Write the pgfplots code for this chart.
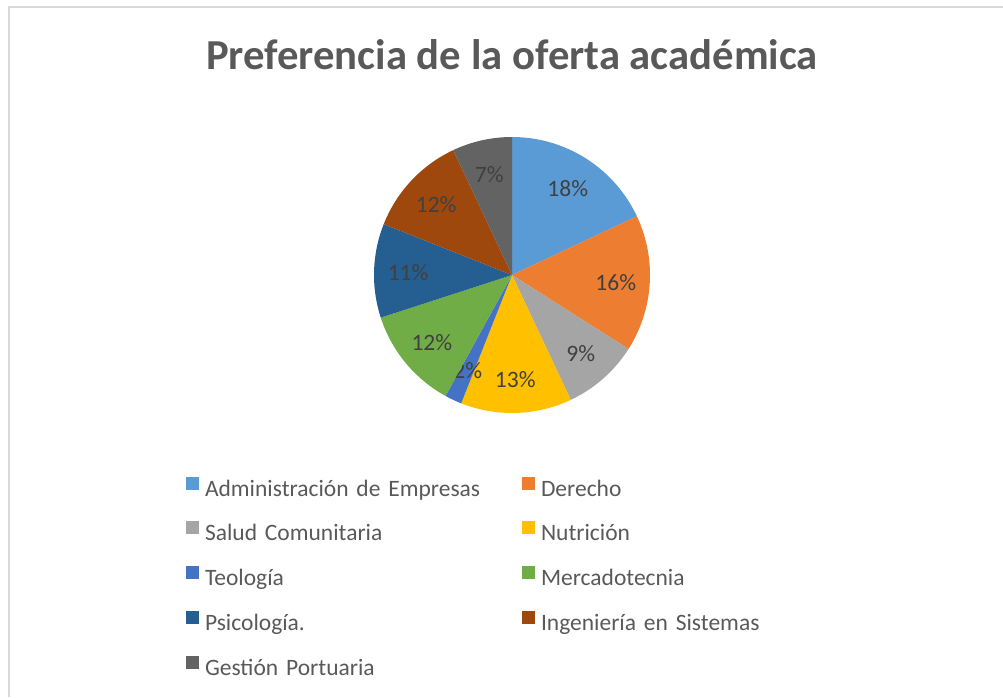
\documentclass[border=0pt]{standalone}
\usepackage{pgfplots}
\pgfplotsset{compat=1.18}
\usepackage{pgfplotstable}
\usepackage{fontspec}
\setmainfont{Carlito}

\definecolor{c0}{HTML}{5B9BD5}
\definecolor{c1}{HTML}{ED7D31}
\definecolor{c2}{HTML}{A5A5A5}
\definecolor{c3}{HTML}{FFC000}
\definecolor{c4}{HTML}{4472C4}
\definecolor{c5}{HTML}{70AD47}
\definecolor{c6}{HTML}{255E91}
\definecolor{c7}{HTML}{9E480E}
\definecolor{c8}{HTML}{636363}
\definecolor{lbl}{HTML}{404040}
\definecolor{txt}{HTML}{595959}
\definecolor{frame}{HTML}{D9D9D9}

% share of each programme, in percent
\pgfplotstableread[col sep=comma]{
name,value
Administración de Empresas,18
Derecho,16
Salud Comunitaria,9
Nutrición,13
Teología,2
Mercadotecnia,12
Psicología.,11
Ingeniería en Sistemas,12
Gestión Portuaria,7
}\piedata

\begin{document}
\begin{tikzpicture}
% slice angles, clockwise from 12 o'clock
\gdef\cum{90}
\foreach \i in {0,...,8}{
  \pgfplotstablegetelem{\i}{value}\of\piedata
  \expandafter\xdef\csname pV\i\endcsname{\pgfplotsretval}
  \pgfmathsetmacro\e{\cum-3.6*\pgfplotsretval}
  \pgfmathsetmacro\m{(\cum+\e)/2}
  \pgfmathsetmacro\lx{512+104*cos(\m)}
  \pgfmathsetmacro\ly{421+104*sin(\m)}
  \expandafter\xdef\csname pS\i\endcsname{\cum}
  \expandafter\xdef\csname pE\i\endcsname{\e}
  \expandafter\xdef\csname pX\i\endcsname{\lx}
  \expandafter\xdef\csname pY\i\endcsname{\ly}
  \xdef\cum{\e}
}
\begin{axis}[
    x=1pt, y=1pt,
    xmin=0, xmax=1003, ymin=0, ymax=697,
    hide axis, clip=false,
    legend columns=2,
    legend cell align=left,
    legend image code/.code={\fill[#1] (0pt,1pt) rectangle (13pt,14pt);},
    legend style={at={(axis cs:186,220.5)}, anchor=north west,
        draw=none, fill=none, inner sep=0pt, outer sep=0pt,
        column sep=6pt, row sep=20.4pt,
        font=\fontsize{23.5}{28}\selectfont, text=txt,
        nodes={inner sep=0pt, text width=311pt, align=left,
               text height=16pt, text depth=5pt}},
]
\pgfplotsinvokeforeach{0,...,8}{
  \pgfplotstablegetelem{#1}{name}\of\piedata
  \let\slicename\pgfplotsretval
  \edef\dA{\csname pE#1\endcsname}
  \edef\dB{\csname pS#1\endcsname}
  \addplot[draw=none, fill=c#1, domain=\dA:\dB, samples=60]
    ({512+138*cos(x)},{422+138*sin(x)}) -- (axis cs:512,422) -- cycle;
  \addlegendentryexpanded{\slicename}
  \node[text=lbl, font=\fontsize{23.5}{28}\selectfont]
    at (axis cs:\csname pX#1\endcsname,\csname pY#1\endcsname)
    {\csname pV#1\endcsname\%};
}
\node[font=\bfseries\fontsize{42.7}{50}\selectfont, text=txt, anchor=base]
  at (axis cs:512,627) {Preferencia de la oferta académica};
\draw[frame, line width=2pt] (axis cs:9,0) -- (axis cs:9,690) -- (axis cs:1003,690);
\end{axis}
\pgfresetboundingbox
\path (0,0) rectangle (1003pt,697pt);
\end{tikzpicture}
\end{document}
